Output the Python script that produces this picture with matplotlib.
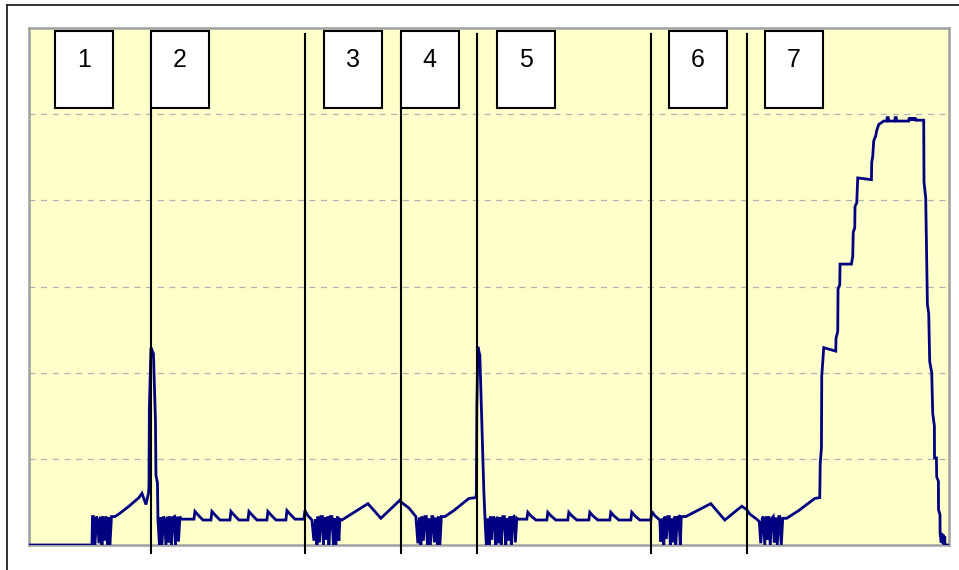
import matplotlib
matplotlib.use("Agg")
import matplotlib.pyplot as plt
from matplotlib.patches import Rectangle
from matplotlib.lines import Line2D

plt.rcParams['font.family'] = ['Liberation Sans', 'DejaVu Sans']
plt.rcParams['lines.scale_dashes'] = False

# signal trace, split by stretch of the run (time in samples)
idle_t = [0, 63]
idle_v = [0, 0]

osc_a_t = [63.5, 64.5, 66, 67.5, 68.5, 70, 71.5, 73, 74, 75.5, 77, 78.5, 79.5, 81, 82.5, 84, 86]
osc_a_v = [0.33, 0.33, 0.0, 0.33, 0.30, 0.02, 0.33, 0.0, 0.33, 0.05, 0.33, 0.0, 0.32, 0.0, 0.33, 0.33, 0.33]

ramp_a_t = [90, 100, 110, 113, 117, 119.5]
ramp_a_v = [0.36, 0.45, 0.55, 0.60, 0.47, 0.60]

spike_a_t = [120, 120.4, 122, 124.5, 126.5, 127, 128.5, 129]
spike_a_v = [0.68, 1.59, 2.29, 2.22, 1.43, 0.81, 0.72, 0.29]

osc_b_t = [130.5, 131.5, 133, 134.5, 135.5, 137, 138.5, 140, 141, 142.5, 144, 145.5, 146.5, 148, 149.5, 151, 152, 154]
osc_b_v = [0.0, 0.32, 0.0, 0.33, 0.31, 0.0, 0.33, 0.03, 0.33, 0.0, 0.32, 0.33, 0.0, 0.33, 0.04, 0.33, 0.30, 0.30]

wave_b_t = [165, 166, 169, 174, 182, 183, 186, 191, 201, 202, 205, 210, 219, 220, 223, 228, 238, 239, 242, 247, 257, 258, 261, 266, 275, 276, 279, 283]
wave_b_v = [0.30, 0.39, 0.35, 0.29, 0.29, 0.39, 0.35, 0.29, 0.29, 0.39, 0.35, 0.29, 0.29, 0.39, 0.35, 0.29, 0.29, 0.39, 0.35, 0.29, 0.29, 0.40, 0.36, 0.30, 0.30, 0.40, 0.34, 0.29]

osc_c_t = [285, 286.5, 288, 289, 290.5, 292, 293.5, 294.5, 296, 297.5, 299, 300, 301.5, 303, 304.5, 305.5, 307, 308.5, 310, 311, 313]
osc_c_v = [0.05, 0.30, 0.0, 0.33, 0.03, 0.33, 0.33, 0.0, 0.32, 0.06, 0.33, 0.0, 0.33, 0.33, 0.0, 0.31, 0.0, 0.33, 0.05, 0.30, 0.29]

ramp_c_t = [339, 352, 371, 372, 380, 387]
ramp_c_v = [0.48, 0.31, 0.52, 0.50, 0.43, 0.33]

osc_d_t = [389, 390.5, 392, 393, 394.5, 396, 397.5, 398.5, 400, 401.5, 403, 404, 405.5, 407, 408.5, 409.5, 411, 412.5, 416]
osc_d_v = [0.02, 0.32, 0.0, 0.33, 0.05, 0.33, 0.33, 0.0, 0.31, 0.0, 0.33, 0.33, 0.03, 0.32, 0.0, 0.33, 0.0, 0.33, 0.33]

ramp_d_t = [425, 440, 447]
ramp_d_v = [0.40, 0.54, 0.55]

spike_b_t = [447.5, 448, 449, 451, 453, 455, 456.5]
spike_b_v = [0.60, 1.60, 2.30, 2.20, 1.40, 0.62, 0.21]

osc_e_t = [457.5, 459, 460.5, 461.5, 463, 464.5, 466, 467, 468.5, 470, 471.5, 472.5, 474, 475.5, 477, 478, 479.5, 481, 482.5, 483.5, 485, 486.5, 488, 489, 492]
osc_e_v = [0.0, 0.31, 0.0, 0.33, 0.06, 0.33, 0.30, 0.0, 0.33, 0.02, 0.32, 0.0, 0.33, 0.33, 0.0, 0.31, 0.05, 0.33, 0.0, 0.32, 0.33, 0.03, 0.31, 0.30, 0.30]

wave_e_t = [498, 499, 502, 507, 518, 519, 522, 527, 539, 540, 543, 548, 560, 561, 564, 569, 581, 582, 585, 590, 602, 603, 606, 611, 622, 623, 626, 631]
wave_e_v = [0.30, 0.38, 0.34, 0.29, 0.29, 0.38, 0.34, 0.29, 0.29, 0.38, 0.34, 0.29, 0.29, 0.38, 0.34, 0.29, 0.29, 0.38, 0.34, 0.29, 0.29, 0.38, 0.34, 0.29, 0.29, 0.39, 0.34, 0.29]

osc_f_t = [632, 633.5, 635, 636, 637.5, 639, 640.5, 641.5, 643, 644.5, 646, 647, 648.5, 650, 651.5, 652.5, 654, 655.5, 657]
osc_f_v = [0.04, 0.31, 0.0, 0.33, 0.07, 0.33, 0.33, 0.0, 0.31, 0.03, 0.33, 0.0, 0.32, 0.33, 0.0, 0.33, 0.33, 0.33, 0.33]

ramp_f_t = [682, 696, 713, 718, 721, 729]
ramp_f_v = [0.48, 0.29, 0.45, 0.41, 0.36, 0.29]

osc_g_t = [730.5, 732, 733.5, 734.5, 736, 737.5, 739, 740, 741.5, 743, 744.5, 745.5, 747, 748.5, 750, 751, 752.5, 754, 755.5, 758]
osc_g_v = [0.27, 0.02, 0.31, 0.33, 0.0, 0.33, 0.06, 0.33, 0.0, 0.31, 0.33, 0.03, 0.32, 0.0, 0.33, 0.33, 0.0, 0.31, 0.31, 0.31]

ramp_g_t = [770, 786, 791]
ramp_g_v = [0.40, 0.54, 0.55]

climb_t = [791.5, 792.7, 793, 795, 807, 807.3, 809, 809.3, 811, 811.3, 822.7, 824, 824.5, 826, 826.3, 828, 829, 842.7, 843, 844, 845, 847, 848, 850, 855]
climb_v = [0.95, 1.13, 1.96, 2.29, 2.25, 2.40, 2.48, 2.97, 3.02, 3.26, 3.26, 3.35, 3.63, 3.68, 3.93, 3.97, 4.26, 4.24, 4.44, 4.51, 4.69, 4.75, 4.81, 4.88, 4.92]

plateau_t = [858, 858.5, 859.5, 860, 866, 866.5, 867.5, 868, 880, 880.5, 881, 882, 882.5, 883.5, 884, 885, 885.5, 886.5, 887, 895]
plateau_v = [4.92, 4.96, 4.96, 4.92, 4.92, 4.96, 4.96, 4.92, 4.92, 4.96, 4.93, 4.96, 4.93, 4.96, 4.93, 4.96, 4.93, 4.96, 4.93, 4.93]

fall_t = [895.3, 897, 898.7, 900, 901, 903, 904, 905.7, 905.8, 907.7, 908, 909.7, 909.8, 911.3, 911.4, 912.5, 913, 914, 914.5, 915.5, 916, 916.3, 920]
fall_v = [4.21, 4.03, 2.79, 2.69, 2.13, 2.00, 1.53, 1.38, 1.01, 1.01, 0.79, 0.74, 0.41, 0.35, 0.14, 0.03, 0.14, 0.02, 0.12, 0.0, 0.10, 0.0, 0.0]

# boundaries between the numbered steps, and where each step label sits
step_edges = [122, 276, 372, 448, 622, 718]
step_labels = ['1', '2', '3', '4', '5', '6', '7']
label_left = [26, 122, 295, 372, 468, 640, 736]
grid_levels = [1, 2, 3, 4, 5]

t = (idle_t + osc_a_t + ramp_a_t + spike_a_t + osc_b_t + wave_b_t + osc_c_t + ramp_c_t
     + osc_d_t + ramp_d_t + spike_b_t + osc_e_t + wave_e_t + osc_f_t + ramp_f_t + osc_g_t
     + ramp_g_t + climb_t + plateau_t + fall_t)
v = (idle_v + osc_a_v + ramp_a_v + spike_a_v + osc_b_v + wave_b_v + osc_c_v + ramp_c_v
     + osc_d_v + ramp_d_v + spike_b_v + osc_e_v + wave_e_v + osc_f_v + ramp_f_v + osc_g_v
     + ramp_g_v + climb_v + plateau_v + fall_v)

fig = plt.figure(figsize=(9.59, 5.70), dpi=100)
fig.patch.set_facecolor('white')

# outer frame (top and left edges)
fig.add_artist(Line2D([7 / 959, 1.0], [1 - 5 / 570, 1 - 5 / 570], color='#222222', lw=1.3))
fig.add_artist(Line2D([7 / 959, 7 / 959], [0.0, 1 - 5 / 570], color='#222222', lw=1.3))

ax = fig.add_axes([29 / 959, 25 / 570, 919.7 / 959, 517 / 570])
ax.set_facecolor('#ffffcc')
ax.set_xlim(0, 920)
ax.set_ylim(0, 6)
ax.set_xticks([])
ax.set_yticks([])
for s in ax.spines.values():
    s.set_color('#a0a0a0')
    s.set_linewidth(1.8)

for g in grid_levels:
    ax.axhline(g, color='#b0b0b0', lw=0.9, linestyle=(0, (4.3, 4.1)), zorder=1)

ax.plot(t, v, color='#000080', lw=2.0, solid_joinstyle='miter', zorder=3)

for x in step_edges:
    ax.plot([x, x], [-0.093, 5.93], color='black', lw=1.5, clip_on=False, zorder=4)

for lab, x0 in zip(step_labels, label_left):
    ax.add_patch(Rectangle((x0, 5.066), 58, 0.9, facecolor='white', edgecolor='black',
                           lw=1.5, zorder=5))
    ax.text(x0 + 29, 5.63, lab, fontsize=18, ha='center', va='center', zorder=6)

fig.savefig('out.png', dpi=100)
